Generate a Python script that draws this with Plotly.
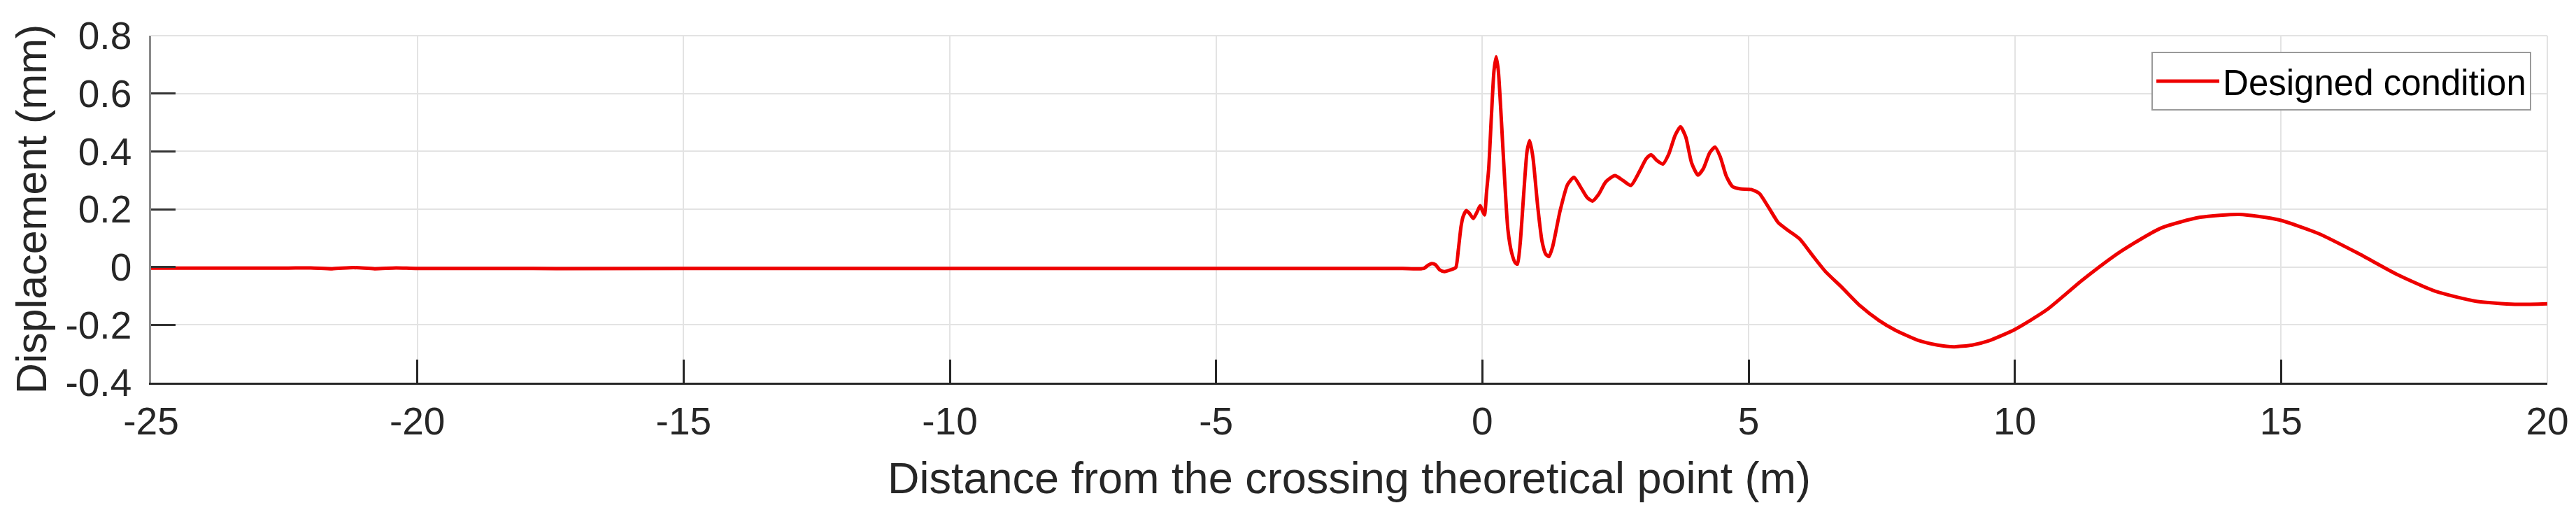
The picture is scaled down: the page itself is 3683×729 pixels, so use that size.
import plotly.graph_objects as go

# ---- data ----
distance_m = [
    -25.0, -22.5, -22.0, -21.6, -21.2, -20.8, -20.4, -20.0, -15.0, -10.0, -5.0,
    -3.0, -2.0, -1.5,
    -1.10, -1.02, -0.95, -0.88, -0.80, -0.71, -0.60, -0.50, -0.45, -0.40, -0.36,
    -0.30, -0.24, -0.17, -0.10, -0.04, 0.00, 0.04, 0.08, 0.12, 0.17, 0.22, 0.26,
    0.30, 0.36, 0.42, 0.48, 0.55, 0.62, 0.66, 0.71, 0.78, 0.84, 0.89, 0.95, 1.04,
    1.12, 1.19, 1.25, 1.32, 1.46, 1.60, 1.72, 1.85, 1.97, 2.07, 2.18, 2.32, 2.49,
    2.65, 2.79, 2.95, 3.08, 3.17, 3.28, 3.39, 3.50, 3.62, 3.72, 3.82, 3.93, 4.05,
    4.15, 4.27, 4.37, 4.47, 4.58, 4.70, 4.85, 5.05, 5.20, 5.38, 5.56, 5.74, 5.96,
    6.20, 6.44, 6.75, 7.10, 7.45, 7.75, 8.19, 8.55, 8.85, 9.20, 9.50, 10.00, 10.60,
    11.27, 12.00, 12.75, 13.48, 14.22, 14.96, 15.70, 16.44, 17.17, 17.90, 18.65,
    19.39, 20.00,
]
displacement_mm = [
    -0.004, -0.004, -0.003, -0.006, -0.002, -0.006, -0.003, -0.005, -0.005, -0.005, -0.005,
    -0.005, -0.005, -0.005,
    -0.005, 0.006, 0.012, 0.008, -0.010, -0.016, -0.010, -0.002, 0.060, 0.140, 0.175,
    0.195, 0.185, 0.168, 0.190, 0.212, 0.195, 0.180, 0.260, 0.340, 0.520, 0.680, 0.727,
    0.680, 0.500, 0.300, 0.130, 0.050, 0.014, 0.010, 0.080, 0.260, 0.400, 0.437, 0.380, 0.210,
    0.090, 0.045, 0.036, 0.070, 0.194, 0.285, 0.310, 0.275, 0.240, 0.228, 0.250, 0.295, 0.316,
    0.298, 0.282, 0.330, 0.375, 0.388, 0.368, 0.356, 0.390, 0.455, 0.485, 0.450, 0.360, 0.318,
    0.340, 0.395, 0.415, 0.380, 0.315, 0.278, 0.270, 0.268, 0.255, 0.205, 0.153, 0.127, 0.097,
    0.040, -0.015, -0.070, -0.135, -0.185, -0.218, -0.254, -0.270, -0.276, -0.270, -0.256, -0.216, -0.148,
    -0.045, 0.055, 0.135, 0.172, 0.182, 0.163, 0.116, 0.048, -0.025, -0.084, -0.118,
    -0.129, -0.127,
]
series_name = "Designed condition"
x_tick_values = [-25, -20, -15, -10, -5, 0, 5, 10, 15, 20]
x_tick_labels = ["-25", "-20", "-15", "-10", "-5", "0", "5", "10", "15", "20"]
y_tick_values = [-0.4, -0.2, 0, 0.2, 0.4, 0.6, 0.8]
y_tick_labels = ["-0.4", "-0.2", "0", "0.2", "0.4", "0.6", "0.8"]
x_title = "Distance from the crossing theoretical point (m)"
y_title = "Displacement (mm)"

FONT = "Liberation Sans, Arial, Helvetica, sans-serif"
TXT = "#262626"
GRID = "#e3e3e3"

fig = go.Figure()
fig.add_trace(go.Scatter(
    x=distance_m, y=displacement_mm, mode="lines", name=series_name,
    line=dict(color="#ee0000", width=5, shape="spline", smoothing=0.6),
))

# light frame gridlines on the top and right edges (MATLAB grid at range limits)
fig.add_shape(type="line", xref="paper", yref="paper", x0=0, x1=1, y0=1, y1=1,
              line=dict(color=GRID, width=2), layer="below")
fig.add_shape(type="line", xref="paper", yref="paper", x0=1, x1=1, y0=0, y1=1,
              line=dict(color=GRID, width=2), layer="below")

fig.update_layout(
    width=3683, height=729,
    margin=dict(l=208, r=49, t=43, b=190),
    paper_bgcolor="white", plot_bgcolor="white",
    font=dict(family=FONT, color=TXT, size=55),
    showlegend=True,
    legend=dict(
        x=0.9933, y=0.953, xanchor="right", yanchor="top",
        bgcolor="white", bordercolor="#9a9a9a", borderwidth=2,
        font=dict(family=FONT, size=51, color="black"),
        itemwidth=90,
    ),
    xaxis=dict(
        range=[-25, 20], tickmode="array", tickvals=x_tick_values, ticktext=x_tick_labels,
        showgrid=True, gridcolor=GRID, gridwidth=2, zeroline=False,
        showline=True, linecolor="#262626", linewidth=3,
        ticks="inside", ticklen=33, tickwidth=2.5, tickcolor="#262626",
        tickfont=dict(size=55, color=TXT), ticklabelstandoff=5,
        title=dict(text=x_title, font=dict(size=63, color=TXT), standoff=29),
    ),
    yaxis=dict(
        range=[-0.4, 0.8], tickmode="array", tickvals=y_tick_values, ticktext=y_tick_labels,
        showgrid=True, gridcolor=GRID, gridwidth=2, zeroline=False,
        showline=True, linecolor="#8a8a8a", linewidth=2.5,
        ticks="inside", ticklen=35, tickwidth=2.5, tickcolor="#333333",
        tickfont=dict(size=55, color=TXT), ticklabelstandoff=14,
        title=dict(text=y_title, font=dict(size=61, color=TXT), standoff=8),
    ),
)

fig.write_html("out.html")
